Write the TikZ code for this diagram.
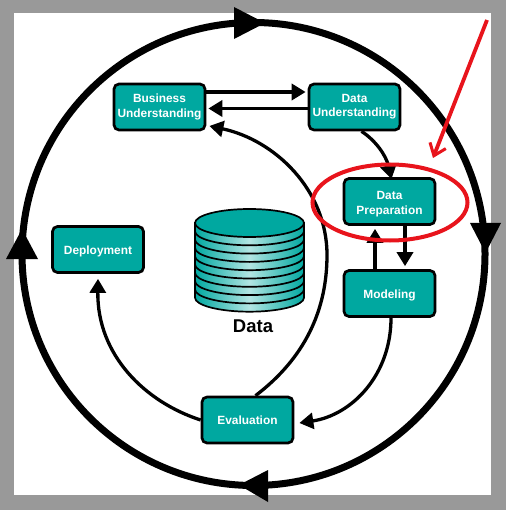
\documentclass[tikz,border=0pt]{standalone}
\usepackage{fontspec}
\setmainfont{Liberation Sans}
\usetikzlibrary{arrows.meta,calc,shapes.geometric}
\definecolor{boxteal}{HTML}{00A8A0}
\definecolor{frameg}{HTML}{999999}
\definecolor{redmark}{HTML}{E8141C}
\newcommand{\lift}[1]{\rule{0pt}{#1pt}}
\tikzset{
  x=1pt,y=-1pt,
  stagebox/.style={draw=black,line width=2.7pt,fill=boxteal,rounded corners=5pt,minimum width=91pt,minimum height=46pt,inner sep=0pt,align=center,text=white,font=\bfseries\fontsize{11.9}{14.2}\selectfont},
  flow/.style={draw=black,line width=3.6pt,-{Triangle[length=14pt,width=16pt]}},
  flowthin/.style={flow,line width=3.3pt},
  ring/.style={draw=black,line width=7pt},
  bighead/.style={fill=black,draw=none},
  band/.style={draw=black,line width=1.7pt,left color=boxteal,right color=boxteal,middle color=boxteal!30},
}
\begin{document}
\begin{tikzpicture}
\useasboundingbox (0,0) rectangle (506,510);
\fill[frameg] (0,0) rectangle (506,510);
\fill[white] (14,13) rectangle (491,495);
% outer ring
\node[ring,circle,minimum size=463pt,inner sep=0pt] (cycle) at (253.5,254) {};
\fill[bighead] (234,7) -- (265,23) -- (234,39) -- cycle;
\fill[bighead] (470,223) -- (501,223) -- (485.5,253) -- cycle;
\fill[bighead] (268,470) -- (268,502) -- (239,485) -- cycle;
\fill[bighead] (6,259) -- (38,259) -- (22,229) -- cycle;
% stage boxes
\node[stagebox] (bu) at (159.5,107) {Business\\Understanding};
\node[stagebox] (du) at (354.5,107) {Data\\Understanding};
\node[stagebox] (dp) at (389.5,201.5) {\lift{13.5}Data\\Preparation};
\node[stagebox] (mo) at (389.5,293.5) {\lift{12}Modeling};
\node[stagebox] (de) at (98,249.5) {\lift{12}Deployment};
\node[stagebox] (ev) at (247.5,420) {Evaluation};
% database
\foreach \i in {9,8,...,1}{
  \pgfmathsetmacro{\ya}{223+8.3*(\i-1)}
  \pgfmathsetmacro{\yb}{223+8.3*\i}
  \path[band] (195,\ya) -- (195,\yb)
    .. controls (195,{\yb+7.7}) and (219.4,{\yb+14}) .. (249.5,{\yb+14})
    .. controls (279.6,{\yb+14}) and (304,{\yb+7.7}) .. (304,\yb)
    -- (304,\ya) -- cycle;
}
\fill[boxteal,draw=black,line width=1.7pt] (249.5,223) ellipse [x radius=54.5,y radius=14];
\node[font=\bfseries\fontsize{18.5}{20}\selectfont,inner sep=0pt] (datalabel) at (253,326) {Data};
% connectors
\draw[flow] ([yshift=15pt]bu.east) -- ([yshift=15pt,xshift=-2pt]du.west);
\draw[flow] ([yshift=-1.5pt]du.west) -- ([yshift=-1.5pt,xshift=2pt]bu.east);
\draw[flowthin] ([xshift=8pt]ev.north) .. controls (305,358) and (327,310) .. (327,255)
   .. controls (327,190) and (275,140) .. ([yshift=-19pt,xshift=3pt]bu.east);
\draw[flowthin] ([xshift=7pt]du.south) .. controls (375,140) and (386,155) .. ([xshift=2pt,yshift=-2pt]dp.north);
\draw[flow] ([xshift=-14.5pt]mo.north) -- ([xshift=-14.5pt,yshift=-3pt]dp.south);
\draw[flow] ([xshift=15.5pt]dp.south) -- ([xshift=15.5pt,yshift=3pt]mo.north);
\draw[flowthin] ([xshift=1.5pt]mo.south) .. controls (391,375) and (352,415) .. ([yshift=-3pt,xshift=5pt]ev.east);
\draw[flowthin] (ev.west) .. controls (145,402) and (97,355) .. ([yshift=-5pt]de.south);
% red marking
\node[draw=redmark,line width=4pt,ellipse,minimum width=155pt,minimum height=76pt,inner sep=0pt] (mark) at (390,202.5) {};
\coordinate (markfrom) at (487,20);
\coordinate (marktip) at (433,158);
\draw[draw=redmark,line width=3.8pt,-{Straight Barb[length=11pt,width=17pt,line width=3pt]}] (markfrom) -- (marktip);
\end{tikzpicture}
\end{document}
